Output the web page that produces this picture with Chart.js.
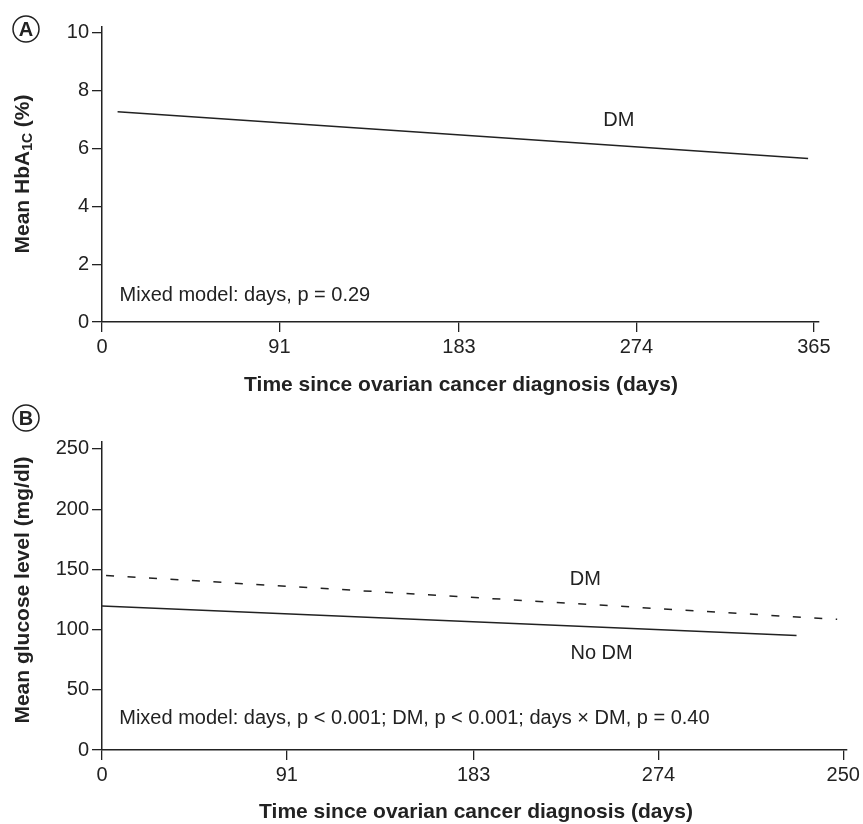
<!DOCTYPE html>
<html>
<head>
<meta charset="utf-8">
<script src="https://cdn.jsdelivr.net/npm/chart.js@4"></script>
<style>
  body { margin: 0; background: #fff; }
  #wrap { position: relative; width: 863px; height: 824px; }
  canvas { position: absolute; left: 0; }
</style>
</head>
<body>
<div id="wrap">
  <canvas id="chartA" width="863" height="400" style="top:0"></canvas>
  <canvas id="chartB" width="863" height="424" style="top:400px"></canvas>
</div>
<script>
// data
const xTickValues = [0, 91, 183, 274, 365];
const xTickLabelsA = ['0', '91', '183', '274', '365'];
const xTickLabelsB = ['0', '91', '183', '274', '250'];
const yTicksA = [0, 2, 4, 6, 8, 10];
const yTicksB = [0, 50, 100, 150, 200, 250];

const hbaDays = [8, 362];
const hbaDM = [7.27, 5.65];

const glucoseDMDays = [2, 362];
const glucoseDM = [145, 108.5];
const glucoseNoDMDays = [0, 342];
const glucoseNoDM = [119.5, 95];

const INK = '#222';
const FONT = '"Liberation Sans", Arial, sans-serif';

function points(xs, ys) {
  return xs.map((x, i) => ({ x: x, y: ys[i] }));
}

function lineSet(label, xs, ys, dash) {
  return {
    label: label,
    data: points(xs, ys),
    borderColor: INK,
    borderWidth: 1.5,
    borderDash: dash || [],
    pointRadius: 0,
    fill: false,
    tension: 0
  };
}

function xScale(max, labels, height) {
  return {
    type: 'linear', min: 0, max: max,
    afterBuildTicks: s => { s.ticks = xTickValues.map(v => ({ value: v })); },
    afterFit: s => { s.height = height; },
    ticks: {
      callback: (v, i) => labels[i],
      color: INK, font: { family: FONT, size: 20 }, padding: 3, maxRotation: 0
    },
    grid: { drawOnChartArea: false, tickLength: 10, color: INK, lineWidth: 1.3 },
    border: { color: INK, width: 1.5 }
  };
}

function yScale(max, ticks) {
  return {
    min: 0, max: max,
    afterBuildTicks: s => { s.ticks = ticks.map(v => ({ value: v })); },
    afterFit: s => { s.width = 102; },
    ticks: { color: INK, font: { family: FONT, size: 20 }, padding: 3 },
    grid: { drawOnChartArea: false, tickLength: 10, color: INK, lineWidth: 1.3 },
    border: { color: INK, width: 1.5 }
  };
}

// draws panel letters, axis titles and the in-plot notes
const textPlugin = {
  id: 'texts',
  afterDraw(chart, args, opts) {
    const ctx = chart.ctx;
    const sx = chart.scales.x, sy = chart.scales.y;
    ctx.save();
    ctx.fillStyle = INK;
    ctx.strokeStyle = INK;
    ctx.textBaseline = 'middle';

    // circled panel letter
    ctx.lineWidth = 1.5;
    ctx.beginPath();
    ctx.arc(opts.letterX, opts.letterY, 13, 0, Math.PI * 2);
    ctx.stroke();
    ctx.font = 'bold 20px ' + FONT;
    ctx.textAlign = 'center';
    ctx.fillText(opts.letter, opts.letterX, opts.letterY + 1);

    // x title
    ctx.font = 'bold 21px ' + FONT;
    ctx.fillText(opts.xTitle, opts.xTitleX, opts.xTitleY);

    // y title (rotated, with optional subscript)
    ctx.save();
    ctx.translate(opts.yTitleX, opts.yTitleY);
    ctx.rotate(-Math.PI / 2);
    const parts = opts.yTitle;
    const big = 'bold 21px ' + FONT, small = 'bold 14px ' + FONT;
    let total = 0;
    parts.forEach(p => { ctx.font = p.sub ? small : big; total += ctx.measureText(p.t).width; });
    let cx = -total / 2;
    ctx.textAlign = 'left';
    parts.forEach(p => {
      ctx.font = p.sub ? small : big;
      ctx.fillText(p.t, cx, p.sub ? 5 : 0);
      cx += ctx.measureText(p.t).width;
    });
    ctx.restore();

    // notes inside the plot
    ctx.font = '20px ' + FONT;
    opts.notes.forEach(n => {
      ctx.textAlign = n.align;
      ctx.fillText(n.text, sx.getPixelForValue(n.x), sy.getPixelForValue(n.y));
    });
    ctx.restore();
  }
};

new Chart(document.getElementById('chartA').getContext('2d'), {
  type: 'line',
  data: { datasets: [lineSet('DM', hbaDays, hbaDM)] },
  options: {
    responsive: false,
    animation: false,
    layout: { padding: { left: 0, top: 27, right: 44, bottom: 0 } },
    scales: { x: xScale(367.6, xTickLabelsA, 78), y: yScale(10.2, yTicksA) },
    plugins: {
      legend: { display: false },
      tooltip: { enabled: false },
      texts: {
        letter: 'A', letterX: 26, letterY: 29,
        xTitle: 'Time since ovarian cancer diagnosis (days)', xTitleX: 461, xTitleY: 385,
        yTitle: [{ t: 'Mean HbA' }, { t: '1C', sub: true }, { t: ' (%)' }], yTitleX: 23, yTitleY: 174,
        notes: [
          { text: 'DM', x: 265, y: 6.97, align: 'center' },
          { text: 'Mixed model: days, p = 0.29', x: 9, y: 0.9, align: 'left' }
        ]
      }
    }
  },
  plugins: [textPlugin]
});

new Chart(document.getElementById('chartB').getContext('2d'), {
  type: 'line',
  data: {
    datasets: [
      lineSet('DM', glucoseDMDays, glucoseDM, [8, 13.5]),
      lineSet('No DM', glucoseNoDMDays, glucoseNoDM)
    ]
  },
  options: {
    responsive: false,
    animation: false,
    layout: { padding: { left: 0, top: 42, right: 16, bottom: 0 } },
    scales: { x: xScale(366.5, xTickLabelsB, 74), y: yScale(255.8, yTicksB) },
    plugins: {
      legend: { display: false },
      tooltip: { enabled: false },
      texts: {
        letter: 'B', letterX: 26, letterY: 18,
        xTitle: 'Time since ovarian cancer diagnosis (days)', xTitleX: 476, xTitleY: 412,
        yTitle: [{ t: 'Mean glucose level (mg/dl)' }], yTitleX: 23, yTitleY: 190,
        notes: [
          { text: 'DM', x: 238, y: 142, align: 'center' },
          { text: 'No DM', x: 246, y: 80, align: 'center' },
          { text: 'Mixed model: days, p < 0.001; DM, p < 0.001; days \u00d7 DM, p = 0.40', x: 8.5, y: 26.5, align: 'left' }
        ]
      }
    }
  },
  plugins: [textPlugin]
});
</script>
</body>
</html>
